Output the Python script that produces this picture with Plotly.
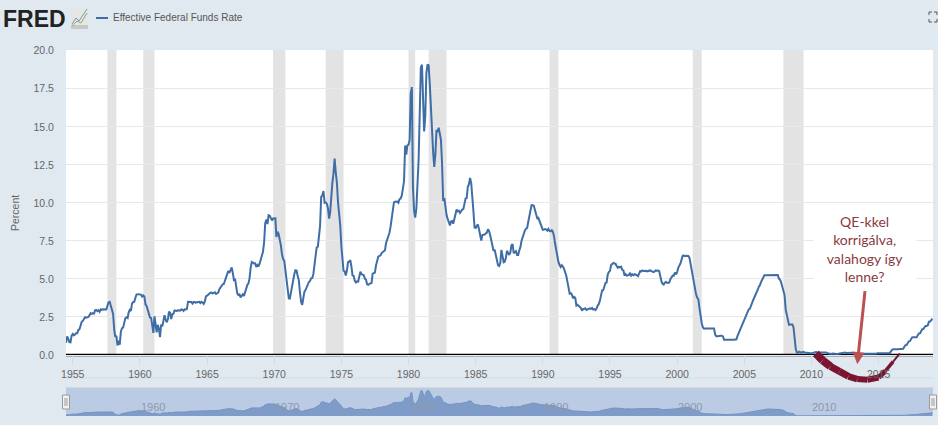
import pandas as pd
import plotly.graph_objects as go

START_MONTH = "1954-07-01"
RATES = [
0.80,1.22,1.06,0.85,0.83,1.28,
1.39,1.29,1.35,1.43,1.43,1.64,1.68,1.96,2.18,2.24,2.35,2.48,
2.45,2.50,2.50,2.62,2.75,2.71,2.75,2.73,2.95,2.96,2.88,2.94,
2.84,3.00,2.96,3.00,3.00,3.00,2.99,3.24,3.47,3.50,3.28,2.98,
2.72,1.67,1.20,1.26,0.63,0.93,0.68,1.53,1.76,1.80,2.27,2.42,
2.48,2.43,2.80,2.96,2.90,3.39,3.47,3.50,3.76,3.98,4.00,3.99,
3.99,3.97,3.84,3.92,3.85,3.32,3.23,2.98,2.60,2.47,2.44,1.98,
1.45,2.54,2.02,1.49,1.98,1.73,1.17,2.00,1.88,2.26,2.62,2.33,
2.15,2.37,2.85,2.78,2.36,2.68,2.71,2.93,2.90,2.90,2.94,2.93,
2.92,3.00,2.98,2.90,3.00,2.99,3.02,3.49,3.48,3.50,3.48,3.38,
3.48,3.48,3.43,3.47,3.50,3.50,3.42,3.50,3.45,3.36,3.52,3.85,
3.90,3.98,4.04,4.09,4.10,4.04,4.09,4.12,4.01,4.08,4.10,4.32,
4.42,4.60,4.65,4.67,4.90,5.17,5.30,5.53,5.40,5.53,5.76,5.40,
4.94,5.00,4.53,4.05,3.94,3.98,3.79,3.90,3.99,3.88,4.13,4.51,
4.60,4.71,5.05,5.76,6.11,6.07,6.02,6.03,5.78,5.91,5.82,6.02,
6.30,6.61,6.79,7.41,8.67,8.90,8.61,9.19,9.15,9.00,8.85,8.97,
8.98,8.98,7.76,8.10,7.95,7.61,7.21,6.61,6.29,6.20,5.60,4.90,
4.14,3.72,3.71,4.16,4.63,4.91,5.31,5.57,5.55,5.20,4.91,4.14,
3.50,3.29,3.83,4.17,4.27,4.46,4.55,4.80,4.87,5.04,5.06,5.33,
5.94,6.58,7.09,7.12,7.84,8.49,10.40,10.50,10.78,10.01,10.03,9.95,
9.65,8.97,9.35,10.51,11.31,11.93,12.92,12.01,11.34,10.06,9.45,8.53,
7.13,6.24,5.54,5.49,5.22,5.55,6.10,6.14,6.24,5.82,5.22,5.20,
4.87,4.77,4.84,4.82,5.29,5.48,5.31,5.29,5.25,5.02,4.95,4.65,
4.61,4.68,4.69,4.73,5.35,5.39,5.42,5.90,6.14,6.47,6.51,6.56,
6.70,6.78,6.79,6.89,7.36,7.60,7.81,8.04,8.45,8.96,9.76,10.03,
10.07,10.06,10.09,10.01,10.24,10.29,10.47,10.94,11.43,13.77,13.18,13.78,
13.82,14.13,17.19,17.61,10.98,9.47,9.03,9.61,10.87,12.81,15.85,18.90,
19.08,15.93,14.70,15.72,18.52,19.10,19.04,17.82,15.87,15.08,13.31,12.37,
13.22,14.78,14.68,14.94,14.45,14.15,12.59,10.12,10.31,9.71,9.20,8.95,
8.68,8.51,8.77,8.80,8.63,8.98,9.37,9.56,9.45,9.48,9.34,9.47,
9.56,9.59,9.91,10.29,10.32,11.06,11.23,11.64,11.30,9.99,9.43,8.38,
8.35,8.50,8.58,8.27,7.97,7.53,7.88,7.90,7.92,7.99,8.05,8.27,
8.14,7.86,7.48,6.99,6.85,6.92,6.56,6.17,5.89,5.85,6.04,6.91,
6.43,6.10,6.13,6.37,6.85,6.73,6.58,6.73,7.22,7.29,6.69,6.77,
6.83,6.58,6.58,6.87,7.09,7.51,7.75,8.01,8.19,8.30,8.35,8.76,
9.12,9.36,9.85,9.84,9.81,9.53,9.24,8.99,9.02,8.84,8.55,8.45,
8.23,8.24,8.28,8.26,8.18,8.29,8.15,8.13,8.20,8.11,7.81,7.31,
6.91,6.25,6.12,5.91,5.78,5.90,5.82,5.66,5.45,5.21,4.81,4.43,
4.03,4.06,3.98,3.73,3.82,3.76,3.25,3.30,3.22,3.10,3.09,2.92,
3.02,3.03,3.07,2.96,3.00,3.04,3.06,3.03,3.09,2.99,3.02,2.96,
3.05,3.25,3.34,3.56,4.01,4.25,4.26,4.47,4.73,4.76,5.29,5.45,
5.53,5.92,5.98,6.05,6.01,6.00,5.85,5.74,5.80,5.76,5.80,5.60,
5.56,5.22,5.31,5.22,5.24,5.27,5.40,5.22,5.30,5.24,5.31,5.29,
5.25,5.19,5.39,5.51,5.50,5.56,5.52,5.54,5.54,5.50,5.52,5.50,
5.56,5.51,5.49,5.45,5.49,5.56,5.54,5.55,5.51,5.07,4.83,4.68,
4.63,4.76,4.81,4.74,4.74,4.76,4.99,5.07,5.22,5.20,5.42,5.30,
5.45,5.73,5.85,6.02,6.27,6.53,6.54,6.50,6.52,6.51,6.51,6.40,
5.98,5.49,5.31,4.80,4.21,3.97,3.77,3.65,3.07,2.49,2.09,1.82,
1.73,1.74,1.73,1.75,1.75,1.75,1.73,1.74,1.75,1.75,1.34,1.24,
1.24,1.26,1.25,1.26,1.26,1.22,1.01,1.03,1.01,1.01,1.00,0.98,
1.00,1.01,1.00,1.00,1.00,1.03,1.26,1.43,1.61,1.76,1.93,2.16,
2.28,2.50,2.63,2.79,3.00,3.04,3.26,3.50,3.62,3.78,4.00,4.16,
4.29,4.49,4.59,4.79,4.94,4.99,5.24,5.25,5.25,5.25,5.25,5.24,
5.25,5.26,5.26,5.25,5.25,5.25,5.26,5.02,4.94,4.76,4.49,4.24,
3.94,2.98,2.61,2.28,1.98,2.00,2.01,2.00,1.81,0.97,0.39,0.16,
0.15,0.22,0.18,0.15,0.18,0.21,0.16,0.16,0.15,0.12,0.12,0.12,
0.11,0.13,0.16,0.20,0.20,0.18,0.18,0.19,0.19,0.19,0.19,0.18,
0.17,0.16,0.14,0.10,0.09,0.09,0.07,0.10,0.08,0.07,0.08,0.07,
0.08,0.10,0.13,0.14,0.16,0.16,0.16,0.13,0.14,0.16,0.16,0.16,
0.14,0.15,0.14,0.15,0.11,0.09,0.09,0.08,0.08,0.09,0.08,0.09,
0.07,0.07,0.08,0.09,0.09,0.10,0.09,0.09,0.09,0.09,0.09,0.12,
0.11,0.11,0.11,0.12,0.12,0.13,0.13,0.14,0.14,0.12,0.12,0.24,
0.34,0.38,0.36,0.37,0.37,0.38,0.39,0.40,0.40,0.40,0.41,0.54,
0.65,0.66,0.79,0.90,0.91,1.04,1.15,1.16,1.15,1.15,1.16,1.30,
1.41,1.42,1.51,1.69,1.70,1.82,1.91,1.91,1.95,2.19,2.20,2.27,
2.40,
]
RECESSION_STARTS = ["1957-08-01","1960-04-01","1969-12-01","1973-11-01","1980-01-01","1981-07-01","1990-07-01","2001-03-01","2007-12-01"]
RECESSION_ENDS   = ["1958-04-01","1961-02-01","1970-11-01","1975-03-01","1980-07-01","1982-11-01","1991-03-01","2001-11-01","2009-06-01"]
Y_TICKS = [0, 2.5, 5, 7.5, 10, 12.5, 15, 17.5, 20]
NAV_YEARS = [1960, 1970, 1980, 1990, 2000, 2010]
QE_DATES  = ["2010-05-01","2010-11-01","2011-06-01","2012-02-01","2012-10-01","2013-06-01","2014-03-01","2015-01-01","2015-07-01","2016-02-01","2016-08-01"]
QE_VALUES = [0.10,-0.35,-0.75,-1.08,-1.40,-1.58,-1.63,-1.48,-1.06,-0.44,0.10]

W, H = 938, 425
L, R, T, B = 66, 933, 50, 416
ZERO_PX = 355
MAIN_BOTTOM = 386
NAV_TOP = 388
LINE = "#3f6ea6"
BG = "#e1e9f0"
TXT = "#666666"
CLEAR = "rgba(0,0,0,0)"
QE_WIDTHS = [8, 8, 7, 7, 6.5, 6, 6, 5, 3.5, 2]
Y_TOP = 20.05
PX_PER_UNIT = (ZERO_PX - T) / Y_TOP
Y_BOTTOM = -(MAIN_BOTTOM - ZERO_PX) / PX_PER_UNIT

def px(x): return (x - L) / (R - L)
def py(y): return (B - y) / (B - T)

dates = pd.date_range(START_MONTH, periods=len(RATES), freq="MS")
x_range = ["1954-07-01", "2019-01-20"]

fig = go.Figure()
fig.add_trace(go.Scatter(x=dates, y=RATES, mode="lines", name="Effective Federal Funds Rate",
                         line=dict(color=LINE, width=2), showlegend=False))
for i, w in enumerate(QE_WIDTHS):
    fig.add_trace(go.Scatter(x=QE_DATES[i:i+2], y=QE_VALUES[i:i+2], mode="lines",
                             line=dict(color="#7a1430", width=w),
                             showlegend=False, hoverinfo="skip"))
fig.add_trace(go.Scatter(x=dates, y=RATES, mode="lines", xaxis="x2", yaxis="y2", fill="tozeroy",
                         fillcolor="#7f9cc9", line=dict(color="#7393c4", width=1),
                         showlegend=False, hoverinfo="skip"))

shapes = []
shapes.append(dict(type="rect", xref="paper", yref="paper", x0=0, x1=1, y0=0, y1=py(NAV_TOP),
                   fillcolor="#bccbe4", line_width=0, layer="below"))
shapes.append(dict(type="rect", xref="paper", yref="y", x0=0, x1=1, y0=0, y1=Y_TOP,
                   fillcolor="#ffffff", line_width=0, layer="below"))
for s, e in zip(RECESSION_STARTS, RECESSION_ENDS):
    shapes.append(dict(type="rect", xref="x", yref="y", x0=s, x1=e, y0=0, y1=Y_TOP,
                       fillcolor="#e3e3e3", line_width=0, layer="below"))
# zero axis
shapes.append(dict(type="line", xref="x", yref="y", x0=x_range[0], x1=x_range[1], y0=0, y1=0,
                   line=dict(color="#000000", width=2.5), layer="below"))
# rule under the x labels and navigator frame
shapes.append(dict(type="line", xref="paper", yref="paper", x0=0, x1=1, y0=py(378), y1=py(378),
                   line=dict(color="#d3dbe6", width=1), layer="below"))
shapes.append(dict(type="line", xref="paper", yref="paper", x0=0, x1=1, y0=py(NAV_TOP), y1=py(NAV_TOP),
                   line=dict(color="#c4c9d2", width=1)))
# legend sample
shapes.append(dict(type="line", xref="paper", yref="paper", x0=px(96), x1=px(108), y0=py(18), y1=py(18),
                   line=dict(color=LINE, width=2)))
# navigator handles
for hx in (66, 933):
    shapes.append(dict(type="rect", xref="paper", yref="paper", x0=px(hx-3.5), x1=px(hx+3.5), y0=py(409), y1=py(395),
                       fillcolor="#f2f2f2", line=dict(color="#9a9a9a", width=1), layer="above"))
    for dx in (-1, 1):
        shapes.append(dict(type="line", xref="paper", yref="paper", x0=px(hx+dx), x1=px(hx+dx), y0=py(406), y1=py(398),
                           line=dict(color="#9a9a9a", width=1), layer="above"))
# FRED logo icon
shapes.append(dict(type="rect", xref="paper", yref="paper", x0=px(71), x1=px(88), y0=py(29), y1=py(9),
                   fillcolor="#e4e7e4", line_width=0))
shapes.append(dict(type="rect", xref="paper", yref="paper", x0=px(71), x1=px(88), y0=py(29), y1=py(25),
                   fillcolor="#c5c9c3", line_width=0))
shapes.append(dict(type="path", xref="paper", yref="paper",
                   path=f"M {px(72)} {py(24)} L {px(76)} {py(18)} L {px(79)} {py(21)} L {px(87)} {py(9)}",
                   line=dict(color="#7d93b5", width=1)))
shapes.append(dict(type="path", xref="paper", yref="paper",
                   path=f"M {px(72)} {py(26)} L {px(77)} {py(21)} L {px(81)} {py(23)} L {px(87)} {py(13)}",
                   line=dict(color="#8fa86a", width=1)))
# fullscreen icon
c = [(929,15,929,12,932,12),(934,12,937,12,937,15),(937,19,937,22,934,22),(932,22,929,22,929,19)]
for a,b,d,e,f,g in c:
    shapes.append(dict(type="path", xref="paper", yref="paper",
                       path=f"M {px(a)} {py(b)} L {px(d)} {py(e)} L {px(f)} {py(g)}",
                       line=dict(color="#555555", width=1)))

ann = [
    dict(text="<b>FRED</b>", xref="paper", yref="paper", x=px(1), y=py(19), xanchor="left", yanchor="middle",
         showarrow=False, font=dict(family="Liberation Sans", size=23, color="#222222")),
    dict(text="Effective Federal Funds Rate", xref="paper", yref="paper", x=px(111), y=py(18),
         xanchor="left", yanchor="middle", showarrow=False,
         font=dict(family="Liberation Sans", size=10, color="#555555")),
    dict(text="Percent", xref="paper", yref="paper", x=px(15), y=py(213), xanchor="center", yanchor="middle",
         textangle=-90, showarrow=False, font=dict(family="Liberation Sans", size=10.5, color=TXT)),
    dict(text="QE-kkel<br>korrigálva,<br>valahogy így<br>lenne?", xref="paper", yref="paper",
         x=px(865), y=py(249), xanchor="center", yanchor="middle", showarrow=False, align="center",
         bgcolor="#ffffff", width=100, height=80, valign="middle",
         font=dict(family="Lato", size=14, color="#8a3b3f")),
    dict(text="", xref="x", yref="y", x="2013-06-01", y=-0.6, axref="x", ayref="y", ax="2014-01-01", ay=4.3,
         showarrow=True, arrowhead=2, arrowsize=0.8, arrowwidth=3, arrowcolor="#bb5150"),
]
for yr in NAV_YEARS:
    ann.append(dict(text=str(yr), xref="x2", yref="y2", x=f"{yr}-01-01", y=0, yanchor="bottom",
                    xanchor="center", xshift=13, yshift=1, showarrow=False,
                    font=dict(family="Liberation Sans", size=11, color="#8b98ad")))

fig.update_layout(
    width=W, height=H, autosize=False,
    margin=dict(l=L, r=W-R, t=T, b=H-B, pad=0),
    paper_bgcolor=BG, plot_bgcolor=BG,
    showlegend=False, shapes=shapes, annotations=ann,
    xaxis=dict(domain=[0,1], anchor="free", position=py(ZERO_PX), range=x_range, type="date",
               tick0="1955-01-01", dtick="M60", tickformat="%Y", showgrid=False, zeroline=False,
               ticks="outside", ticklen=9, tickcolor="#d5dce6", tickwidth=1, showline=False,
               tickfont=dict(family="Liberation Sans", size=10.5, color=TXT)),
    yaxis=dict(domain=[py(MAIN_BOTTOM),1], anchor="x", range=[Y_BOTTOM,Y_TOP], tickvals=Y_TICKS,
               ticktext=[f"{v:.1f}" for v in Y_TICKS], showgrid=True, gridcolor="#e8e8e8", gridwidth=1,
               zeroline=False, ticks="outside", ticklen=9, tickcolor=CLEAR, showline=False,
               tickfont=dict(family="Liberation Sans", size=10.5, color=TXT)),
    xaxis2=dict(domain=[0,1], anchor="y2", range=x_range, type="date", showticklabels=False,
                showgrid=False, zeroline=False, ticks=""),
    yaxis2=dict(domain=[0,py(NAV_TOP)], anchor="x2", range=[0,21], showticklabels=False,
                showgrid=False, zeroline=False, ticks=""),
)
fig.write_html("out.html", config={"displayModeBar": False},
               post_script="document.body.style.margin='0';")
